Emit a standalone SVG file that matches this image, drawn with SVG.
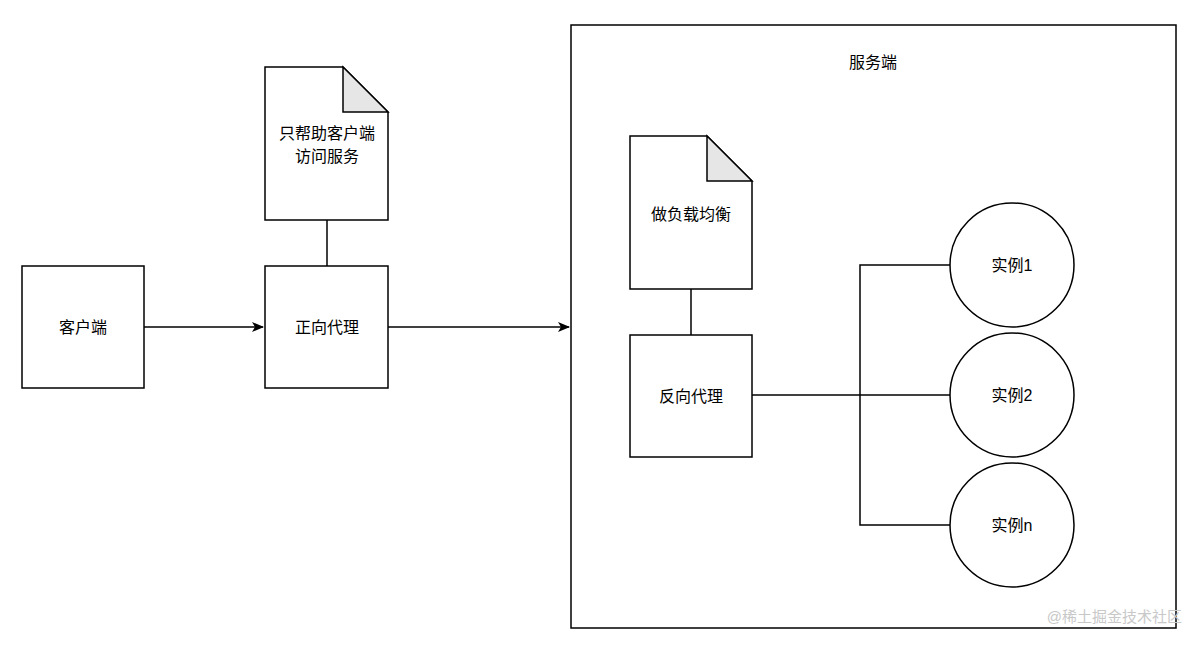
<svg xmlns="http://www.w3.org/2000/svg" width="1197" height="652" viewBox="0 0 1197 652">
<defs>
<style>
.s{fill:#fff;stroke:#000;stroke-width:1.5}
.c{fill:none;stroke:#000;stroke-width:1.5}
.t{font-family:"Liberation Sans","Noto Sans CJK SC",sans-serif;font-size:16px;fill:#000;text-anchor:middle;dominant-baseline:central}
</style>
<marker id="a" markerWidth="12" markerHeight="10" refX="11" refY="5" orient="auto" markerUnits="userSpaceOnUse"><path d="M0,0 L12,5 L0,10 L3,5 Z" fill="#000"/></marker>
</defs>
<rect width="1197" height="652" fill="#fff"/>
<g id="server"><rect class="s" x="571" y="25" width="605" height="603"/><text class="t" x="873" y="62">服务端</text></g>
<g id="connectors">
<line class="c" x1="144" y1="327" x2="263" y2="327" marker-end="url(#a)"/>
<line class="c" x1="388" y1="327" x2="569" y2="327" marker-end="url(#a)"/>
<line class="c" x1="327" y1="220" x2="327" y2="266"/>
<line class="c" x1="691" y1="289" x2="691" y2="335"/>
<polyline class="c" points="752,395 860,395"/>
<polyline class="c" points="950,265 860,265 860,525 950,525"/>
<line class="c" x1="860" y1="395" x2="950" y2="395"/>
</g>
<g id="client"><rect class="s" x="22" y="266" width="122" height="122"/><text class="t" x="83" y="327">客户端</text></g>
<g id="fproxy"><rect class="s" x="265" y="266" width="123" height="122"/><text class="t" x="327" y="327">正向代理</text></g>
<g id="note1"><path class="s" d="M265,67 H343 L388,112 V220 H265 Z"/><path d="M343,67 V112 H388 Z" fill="#e6e6e6" stroke="#000" stroke-width="1.5"/><text class="t" x="327" y="133">只帮助客户端</text><text class="t" x="327" y="156">访问服务</text></g>
<g id="note2"><path class="s" d="M630,136 H707 L752,181 V289 H630 Z"/><path d="M707,136 V181 H752 Z" fill="#e6e6e6" stroke="#000" stroke-width="1.5"/><text class="t" x="691" y="214">做负载均衡</text></g>
<g id="rproxy"><rect class="s" x="630" y="335" width="122" height="122"/><text class="t" x="691" y="396">反向代理</text></g>
<g id="i1"><circle class="s" cx="1012" cy="265" r="62"/><text class="t" x="1012" y="265">实例1</text></g>
<g id="i2"><circle class="s" cx="1012" cy="395" r="62"/><text class="t" x="1012" y="395">实例2</text></g>
<g id="i3"><circle class="s" cx="1012" cy="525" r="62"/><text class="t" x="1012" y="525">实例n</text></g>
<text x="1182" y="622" style="font-family:'Liberation Sans','Noto Sans CJK SC',sans-serif;font-size:15px;fill:#c8c8c8;text-anchor:end">@稀土掘金技术社区</text>
</svg>
